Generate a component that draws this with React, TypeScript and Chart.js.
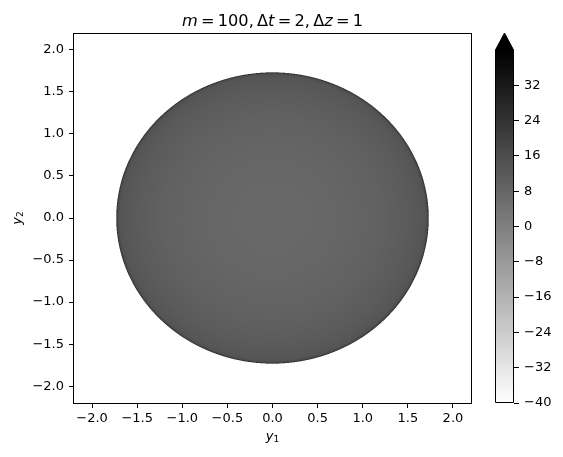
import React, { useEffect, useRef } from "react";
import { Chart, registerables } from "chart.js";

Chart.register(...registerables);

// ---- data ----
const xTicks = [-2.0, -1.5, -1.0, -0.5, 0.0, 0.5, 1.0, 1.5, 2.0];
const yTicks = [-2.0, -1.5, -1.0, -0.5, 0.0, 0.5, 1.0, 1.5, 2.0];
const axisMin = -2.2;
const axisMax = 2.2;
const discRadius = 1.732;
// radial profile of the field (value vs. radius)
const profileRadius = [0, 0.4, 0.8, 1.2, 1.5, 1.65, 1.7, 1.72, 1.732];
const profileValue = [7.2, 7.5, 8.3, 9.6, 11.5, 12.8, 14, 18, 28];
const cbTicks = [-40, -32, -24, -16, -8, 0, 8, 16, 24, 32];
const cbMin = -40;
const cbMax = 40;
const titleParts: [string, boolean][] = [
  ["m", true],
  ["\u2009=\u2009100,\u2009Δ", false],
  ["t", true],
  ["\u2009=\u20092,\u2009Δ", false],
  ["z", true],
  ["\u2009=\u20091", false],
];
const xLabel = ["y", "1"];
const yLabel = ["y", "2"];

const FONT = "'DejaVu Sans', sans-serif";
const TICK_PX = 13;
const TITLE_PX = 16.2;

const fmt = (v: number, digits: number) => {
  const s = Math.abs(v).toFixed(digits);
  return v < 0 ? "\u2212" + s : s;
};

const grayOf = (v: number) => {
  let t = (v - cbMin) / (cbMax - cbMin);
  t = Math.max(0, Math.min(1, t));
  return Math.round(255 * (1 - t));
};

const profileAt = (r: number) => {
  if (r <= profileRadius[0]) return profileValue[0];
  for (let i = 1; i < profileRadius.length; i++) {
    if (r <= profileRadius[i]) {
      const f = (r - profileRadius[i - 1]) / (profileRadius[i] - profileRadius[i - 1]);
      return profileValue[i - 1] + f * (profileValue[i] - profileValue[i - 1]);
    }
  }
  return profileValue[profileValue.length - 1];
};

const discPlugin = {
  id: "disc",
  beforeDatasetsDraw(chart: any) {
    const { ctx, chartArea: a, scales } = chart;
    const xs = scales.x;
    const ys = scales.y;
    const w = Math.round(a.right - a.left);
    const h = Math.round(a.bottom - a.top);
    const off = document.createElement("canvas");
    off.width = w;
    off.height = h;
    const octx = off.getContext("2d")!;
    const img = octx.createImageData(w, h);
    const ss = 3;
    for (let py = 0; py < h; py++) {
      for (let px = 0; px < w; px++) {
        let acc = 0;
        for (let sy = 0; sy < ss; sy++) {
          for (let sx = 0; sx < ss; sx++) {
            const vx = xs.getValueForPixel(a.left + px + (sx + 0.5) / ss);
            const vy = ys.getValueForPixel(a.top + py + (sy + 0.5) / ss);
            const r = Math.sqrt(vx * vx + vy * vy);
            acc += r <= discRadius ? grayOf(profileAt(r)) : 255;
          }
        }
        const g = Math.round(acc / (ss * ss));
        const k = (py * w + px) * 4;
        img.data[k] = g;
        img.data[k + 1] = g;
        img.data[k + 2] = g;
        img.data[k + 3] = 255;
      }
    }
    octx.putImageData(img, 0, 0);
    ctx.save();
    ctx.drawImage(off, a.left, a.top);
    ctx.restore();
  },
  afterDraw(chart: any) {
    const { ctx, chartArea: a } = chart;
    ctx.save();
    ctx.strokeStyle = "#000";
    ctx.lineWidth = 1;
    ctx.strokeRect(Math.round(a.left) - 0.5, Math.round(a.top) + 0.5, Math.round(a.right - a.left) + 1, Math.round(a.bottom - a.top));
    ctx.fillStyle = "#000";
    // title
    let total = 0;
    for (const [s, it] of titleParts) {
      ctx.font = `${it ? "italic " : ""}${TITLE_PX}px ${FONT}`;
      total += ctx.measureText(s).width;
    }
    let x = (a.left + a.right) / 2 - total / 2;
    ctx.textBaseline = "alphabetic";
    ctx.textAlign = "left";
    for (const [s, it] of titleParts) {
      ctx.font = `${it ? "italic " : ""}${TITLE_PX}px ${FONT}`;
      ctx.fillText(s, x, 26);
      x += ctx.measureText(s).width;
    }
    // axis labels
    const drawSub = (parts: string[], cx: number, cy: number) => {
      ctx.font = `italic ${TICK_PX}px ${FONT}`;
      const w1 = ctx.measureText(parts[0]).width;
      ctx.font = `${TICK_PX * 0.7}px ${FONT}`;
      const w2 = ctx.measureText(parts[1]).width;
      const sx = cx - (w1 + w2) / 2;
      ctx.font = `italic ${TICK_PX}px ${FONT}`;
      ctx.fillText(parts[0], sx, cy);
      ctx.font = `${TICK_PX * 0.7}px ${FONT}`;
      ctx.fillText(parts[1], sx + w1, cy + 2);
    };
    drawSub(xLabel, (a.left + a.right) / 2, 440);
    ctx.save();
    ctx.translate(21, (a.top + a.bottom) / 2);
    ctx.rotate(-Math.PI / 2);
    drawSub(yLabel, 0, 0);
    ctx.restore();
    ctx.restore();
  },
};

const colorbarPlugin = {
  id: "colorbar",
  beforeDatasetsDraw(chart: any) {
    const { ctx, chartArea: a, scales } = chart;
    const ys = scales.y;
    ctx.save();
    for (let py = Math.round(a.top); py < Math.round(a.bottom); py++) {
      const v = ys.getValueForPixel(py + 0.5);
      const g = grayOf(v);
      ctx.fillStyle = `rgb(${g},${g},${g})`;
      ctx.fillRect(a.left, py, a.right - a.left, 1);
    }
    const tipY = a.top - 17;
    const cx = (a.left + a.right) / 2;
    ctx.fillStyle = `rgb(${grayOf(cbMax)},${grayOf(cbMax)},${grayOf(cbMax)})`;
    ctx.beginPath();
    ctx.moveTo(a.left, a.top + 0.5);
    ctx.lineTo(cx, tipY);
    ctx.lineTo(a.right, a.top + 0.5);
    ctx.closePath();
    ctx.fill();
    ctx.strokeStyle = "#000";
    ctx.lineWidth = 1;
    ctx.beginPath();
    ctx.moveTo(Math.round(a.left) + 0.5, Math.round(a.bottom) - 0.5);
    ctx.lineTo(Math.round(a.left) + 0.5, a.top);
    ctx.lineTo(cx, tipY);
    ctx.lineTo(Math.round(a.right) - 0.5, a.top);
    ctx.lineTo(Math.round(a.right) - 0.5, Math.round(a.bottom) - 0.5);
    ctx.closePath();
    ctx.stroke();
    ctx.restore();
  },
};

const tickFont = { family: FONT, size: TICK_PX };

export default function App() {
  const mainRef = useRef<HTMLCanvasElement>(null);
  const cbRef = useRef<HTMLCanvasElement>(null);

  useEffect(() => {
    document.body.style.margin = "0";
    const main = new Chart(mainRef.current!, {
      type: "scatter",
      data: { datasets: [{ data: [], pointRadius: 0 }] },
      plugins: [discPlugin],
      options: {
        animation: false,
        responsive: false,
        layout: { padding: { left: 0, top: 33, right: 92, bottom: 0 } },
        plugins: { legend: { display: false }, tooltip: { enabled: false }, title: { display: false } },
        scales: {
          x: {
            type: "linear",
            min: axisMin,
            max: axisMax,
            afterBuildTicks: (s: any) => {
              s.ticks = xTicks.map((v) => ({ value: v }));
            },
            afterFit: (s: any) => {
              s.height = 54;
            },
            grid: { drawOnChartArea: false, drawTicks: true, tickLength: 5, tickColor: "#000", tickWidth: 1 },
            border: { display: false },
            ticks: { color: "#000", font: tickFont, padding: 3, maxRotation: 0, autoSkip: false, callback: (v: any) => fmt(Number(v), 1) },
          },
          y: {
            type: "linear",
            min: axisMin,
            max: axisMax,
            afterBuildTicks: (s: any) => {
              s.ticks = yTicks.map((v) => ({ value: v }));
            },
            afterFit: (s: any) => {
              s.width = 74;
            },
            grid: { drawOnChartArea: false, drawTicks: true, tickLength: 5, tickColor: "#000", tickWidth: 1 },
            border: { display: false },
            ticks: { color: "#000", font: tickFont, padding: 5, autoSkip: false, callback: (v: any) => fmt(Number(v), 1) },
          },
        },
      },
    });
    const cb = new Chart(cbRef.current!, {
      type: "scatter",
      data: { datasets: [{ data: [], pointRadius: 0 }] },
      plugins: [colorbarPlugin],
      options: {
        animation: false,
        responsive: false,
        layout: { padding: { left: 495, top: 50, right: 0, bottom: 54 } },
        plugins: { legend: { display: false }, tooltip: { enabled: false }, title: { display: false } },
        scales: {
          x: { type: "linear", display: false, min: 0, max: 1 },
          y: {
            type: "linear",
            position: "right",
            min: cbMin,
            max: cbMax,
            afterBuildTicks: (s: any) => {
              s.ticks = cbTicks.map((v) => ({ value: v }));
            },
            afterFit: (s: any) => {
              s.width = 563 - 514;
            },
            grid: { drawOnChartArea: false, drawTicks: true, tickLength: 5, tickColor: "#000", tickWidth: 1 },
            border: { display: false },
            ticks: { color: "#000", font: tickFont, padding: 5, autoSkip: false, callback: (v: any) => fmt(Number(v), 0) },
          },
        },
      },
    });
    return () => {
      main.destroy();
      cb.destroy();
    };
  }, []);

  return (
    <div style={{ position: "relative", width: 563, height: 457, background: "#fff" }}>
      <canvas ref={mainRef} width={563} height={457} style={{ position: "absolute", left: 0, top: 0 }} />
      <canvas ref={cbRef} width={563} height={457} style={{ position: "absolute", left: 0, top: 0 }} />
    </div>
  );
}
